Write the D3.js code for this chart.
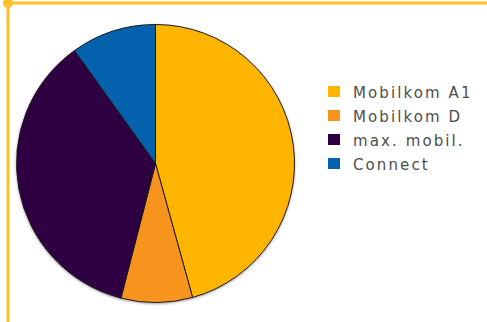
<!DOCTYPE html>
<html><head><meta charset="utf-8">
<script src="https://cdn.jsdelivr.net/npm/d3@7"></script>
<style>html,body{margin:0;padding:0;background:#fff;overflow:hidden}</style>
</head><body>
<script>
const categories = ["Mobilkom A1", "Mobilkom D", "max. mobil.", "Connect"];
const values = [45.7, 8.3, 36.1, 9.9];
const colors = ["#FFB400", "#F7941D", "#2E0042", "#0461AD"];

const W = 487, H = 322;
const svg = d3.select("body").append("svg").attr("width", W).attr("height", H);

const defs = svg.append("defs");
const f = defs.append("filter").attr("id", "sh").attr("x", "-10%").attr("y", "-10%").attr("width", "120%").attr("height", "120%");
f.append("feGaussianBlur").attr("in", "SourceAlpha").attr("stdDeviation", 1.5).attr("result", "b");
f.append("feOffset").attr("in", "b").attr("dx", 0).attr("dy", 1).attr("result", "o");
f.append("feComponentTransfer").attr("in", "o").attr("result", "o2")
  .append("feFuncA").attr("type", "linear").attr("slope", 0.5);
const m = f.append("feMerge");
m.append("feMergeNode").attr("in", "o2");
m.append("feMergeNode").attr("in", "SourceGraphic");

// frame
const frameColor = "#FFC027";
svg.append("line").attr("x1", 8).attr("y1", 3).attr("x2", W).attr("y2", 3)
  .attr("stroke", frameColor).attr("stroke-width", 3);
svg.append("line").attr("x1", 8).attr("y1", 3).attr("x2", 8).attr("y2", H)
  .attr("stroke", frameColor).attr("stroke-width", 3);
svg.append("circle").attr("cx", 8).attr("cy", 3).attr("r", 5).attr("fill", frameColor);

const cx = 155.5, cy = 163.5, R = 139;
const pie = d3.pie().sort(null).value(d => d);
const arc = d3.arc().innerRadius(0).outerRadius(R);
const g = svg.append("g").attr("transform", `translate(${cx},${cy})`);
g.append("circle").attr("r", R).attr("fill", "#fff").attr("filter", "url(#sh)");
g.selectAll("path").data(pie(values)).join("path")
  .attr("d", arc)
  .attr("fill", (d, i) => colors[i])
  .attr("stroke", "#1a1a1a").attr("stroke-width", 1).attr("stroke-linejoin", "round");

const color = d3.scaleOrdinal().domain(categories).range(colors);
const y = d3.scalePoint().domain(categories).range([91.5, 163.5]);
const leg = svg.append("g");
const items = leg.selectAll("g").data(categories).join("g")
  .attr("transform", d => `translate(328,${y(d)})`);
items.append("rect").attr("x", 0).attr("y", -5.5).attr("width", 12).attr("height", 11)
  .attr("fill", d => color(d));
items.append("text").attr("x", 25).attr("y", 6)
  .attr("font-family", "DejaVu Sans, sans-serif").attr("font-size", 15)
  .attr("letter-spacing", 2.1).attr("fill", "#4d4d4d").text(d => d);
</script>
</body></html>
